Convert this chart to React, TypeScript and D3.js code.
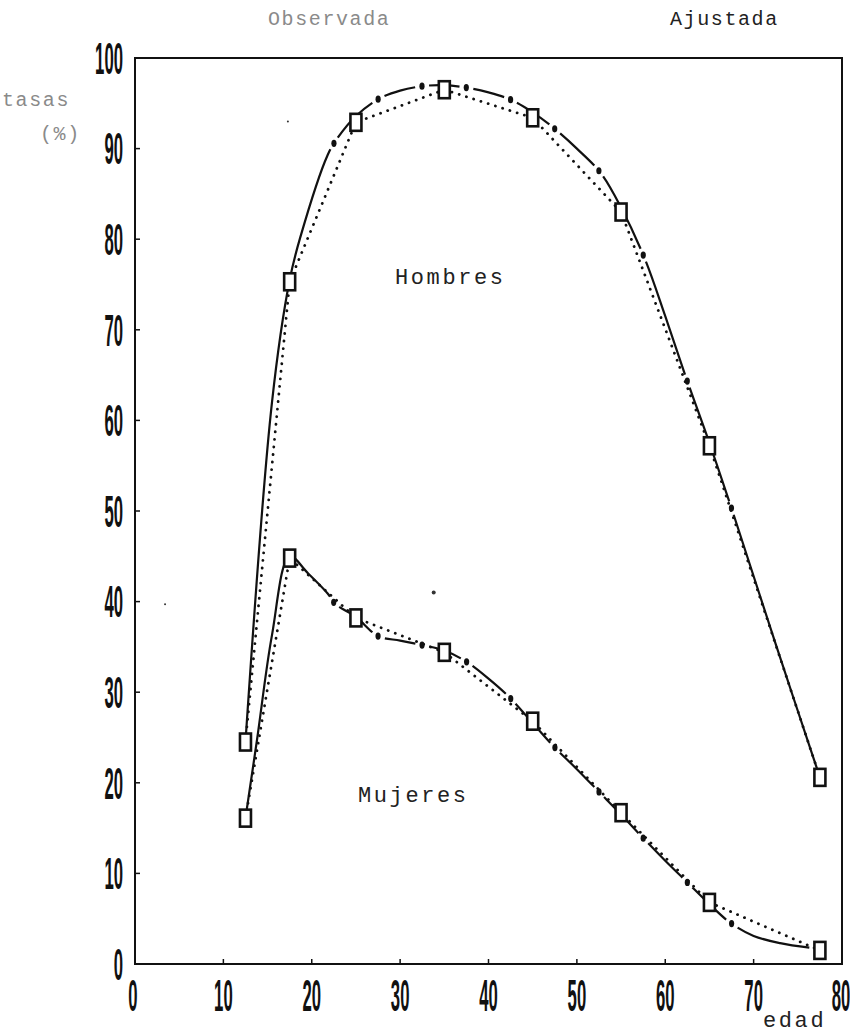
import React, { useRef, useEffect } from "react";
import * as d3 from "d3";

// observed rates (squares), by age group midpoint
const ageGroups = [12.5, 17.5, 25, 35, 45, 55, 65, 77.5];
const menObserved = [24.5, 75.3, 92.9, 96.5, 93.4, 83.0, 57.2, 20.6];
const womenObserved = [16.1, 44.8, 38.2, 34.4, 26.8, 16.7, 6.8, 1.5];

// fitted curves
const menFitAges = [12.5, 15.5, 17.5, 18.7, 21.8, 22.8, 25, 27.6, 30, 32.6, 35, 37.7, 40, 42.5, 45, 47.6, 50, 52.7, 55, 57.7, 60, 62.4, 65, 67.6, 72.5, 77.5];
const menFitted = [24.5, 62.0, 75.5, 80.2, 89.3, 91.0, 93.6, 95.5, 96.4, 96.9, 97.0, 96.7, 96.2, 95.4, 94.0, 92.1, 90.0, 87.3, 83.5, 77.8, 71.5, 64.6, 57.5, 50.0, 35.3, 20.6];
const womenFitAges = [12.5, 13.8, 15.5, 17.5, 19.5, 21.8, 22.6, 25, 27.5, 30, 32.5, 35, 37.6, 40, 42.3, 45, 47.3, 50, 52.5, 55, 57.4, 60, 62.4, 65, 67.3, 70, 73, 76.3];
const womenFitted = [16.1, 24.7, 36.3, 45.0, 43.2, 40.9, 39.8, 38.3, 36.2, 35.7, 35.2, 34.6, 33.3, 31.5, 29.5, 26.6, 24.1, 21.5, 19.0, 16.5, 14.0, 11.4, 9.1, 6.6, 4.6, 3.1, 2.3, 1.8];

// ages where the fitted line carries its big dots
const fitDotAges = [22.5, 27.5, 32.5, 37.5, 42.5, 47.5, 52.5, 57.5, 62.5, 67.5];

const xTicks = [0, 10, 20, 30, 40, 50, 60, 70, 80];
const yTicks = [0, 10, 20, 30, 40, 50, 60, 70, 80, 90, 100];

// specks on the scan
const strayMarks = [[33.8, 41.0], [17.3, 93.0], [3.4, 39.7]];

const mono = "'Liberation Mono', 'DejaVu Sans Mono', monospace";
const digits = "'Liberation Sans', Arial, sans-serif";

const App = () => {
  const ref = useRef(null);

  useEffect(() => {
    const svg = d3.select(ref.current);
    svg.selectAll("*").remove();

    const x = d3.scaleLinear().domain([0, 80]).range([135, 842]);
    const y = d3.scaleLinear().domain([0, 100]).range([964, 58]);

    // frame
    svg.append("rect")
      .attr("x", x(0)).attr("y", y(100))
      .attr("width", x(80) - x(0)).attr("height", y(0) - y(100))
      .attr("fill", "none").attr("stroke", "#111").attr("stroke-width", 2);

    // ticks
    svg.selectAll("line.yt").data(yTicks.slice(1, -1)).enter().append("line")
      .attr("x1", x(0)).attr("x2", x(0) + 5)
      .attr("y1", (d) => y(d)).attr("y2", (d) => y(d))
      .attr("stroke", "#111").attr("stroke-width", 1.5);
    svg.selectAll("line.xt").data(xTicks.slice(1, -1)).enter().append("line")
      .attr("x1", (d) => x(d)).attr("x2", (d) => x(d))
      .attr("y1", y(0)).attr("y2", y(0) - 5)
      .attr("stroke", "#111").attr("stroke-width", 1.5);

    // tick labels, tall condensed digits
    const fs = 44;
    svg.selectAll("text.yl").data(yTicks).enter().append("text")
      .attr("transform", (d) => `translate(123,${y(d) + fs * 0.358}) scale(0.38,1)`)
      .attr("text-anchor", "end")
      .style("font-family", digits).style("font-size", fs + "px").style("font-weight", "bold")
      .style("fill", "#111")
      .text((d) => d);
    svg.selectAll("text.xl").data(xTicks).enter().append("text")
      .attr("transform", (d) => `translate(${x(d) - (d === 0 ? 2 : d === 80 ? 1 : 0)},${995 + fs * 0.358}) scale(0.38,1)`)
      .attr("text-anchor", "middle")
      .style("font-family", digits).style("font-size", fs + "px").style("font-weight", "bold")
      .style("fill", "#111")
      .text((d) => d);

    // texts
    const label = (t, tx, ty, size, spacing, color) =>
      svg.append("text").attr("x", tx).attr("y", ty)
        .style("font-family", mono).style("font-size", size + "px")
        .style("letter-spacing", spacing + "px").style("fill", color)
        .text(t);
    label("Observada", 268, 25, 20, 1.6, "#8a8a8a");
    label("Ajustada", 670, 25, 20, 1.6, "#222");
    label("tasas", 2, 106, 20, 1.6, "#8a8a8a");
    label("(%)", 40, 140, 20, 1.6, "#8a8a8a");
    label("Hombres", 395, 284, 22, 2.6, "#222");
    label("Mujeres", 358, 802, 22, 2.6, "#222");
    label("edad", 763, 1027, 22, 2.6, "#222");

    const plot = svg.append("g");

    // observed: dotted polylines
    const obsLine = d3.line().x((d) => x(d[0])).y((d) => y(d[1]));
    [menObserved, womenObserved].forEach((vals) => {
      plot.append("path")
        .attr("d", obsLine(ageGroups.map((a, i) => [a, vals[i]])))
        .attr("fill", "none").attr("stroke", "#111")
        .attr("stroke-width", 2.8).attr("stroke-linecap", "round")
        .attr("stroke-dasharray", "0.1 7.5");
    });

    // fitted: dash - dot - dash
    const fitLine = d3.line().curve(d3.curveCatmullRom.alpha(0.5))
      .x((d) => x(d[0])).y((d) => y(d[1]));
    const drawFit = (ages, vals) => {
      const path = plot.append("path")
        .attr("d", fitLine(ages.map((a, i) => [a, vals[i]])))
        .attr("fill", "none").attr("stroke", "#111").attr("stroke-width", 2.2);
      const node = path.node();
      const total = node.getTotalLength();
      const samples = d3.range(0, total, 0.5).map((l) => {
        const p = node.getPointAtLength(l);
        return { l, x: p.x, y: p.y };
      });
      const dots = fitDotAges.map((a) => {
        const px = x(a);
        return samples.reduce((b, c) => (Math.abs(c.x - px) < Math.abs(b.x - px) ? c : b));
      });
      const gap = 7;
      const dash = [];
      let pos = 0;
      dots.forEach((s) => {
        dash.push(Math.max(0, s.l - gap - pos), 2 * gap);
        pos = s.l + gap;
      });
      dash.push(total - pos + 20, 0);
      path.attr("stroke-dasharray", dash.join(" "));
      plot.selectAll(null).data(dots).enter().append("ellipse")
        .attr("cx", (d) => d.x).attr("cy", (d) => d.y)
        .attr("rx", 2.6).attr("ry", 3.6).attr("fill", "#111");
    };
    drawFit(menFitAges, menFitted);
    drawFit(womenFitAges, womenFitted);

    plot.selectAll("circle.stray").data(strayMarks).enter().append("circle")
      .attr("cx", (d) => x(d[0])).attr("cy", (d) => y(d[1]))
      .attr("r", (d, i) => (i === 0 ? 2 : 1)).attr("fill", "#333");

    // squares at observed points
    [menObserved, womenObserved].forEach((vals) => {
      plot.selectAll(null).data(ageGroups.map((a, i) => [a, vals[i]])).enter().append("rect")
        .attr("x", (d) => x(d[0]) - 5.5).attr("y", (d) => y(d[1]) - 8.5)
        .attr("width", 11).attr("height", 17)
        .attr("fill", "#fff").attr("stroke", "#111").attr("stroke-width", 2.6);
    });
  }, []);

  return (
    <svg
      ref={ref}
      width={850}
      height={1035}
      style={{ position: "absolute", left: 0, top: 0, background: "#fff" }}
    />
  );
};

export default App;
